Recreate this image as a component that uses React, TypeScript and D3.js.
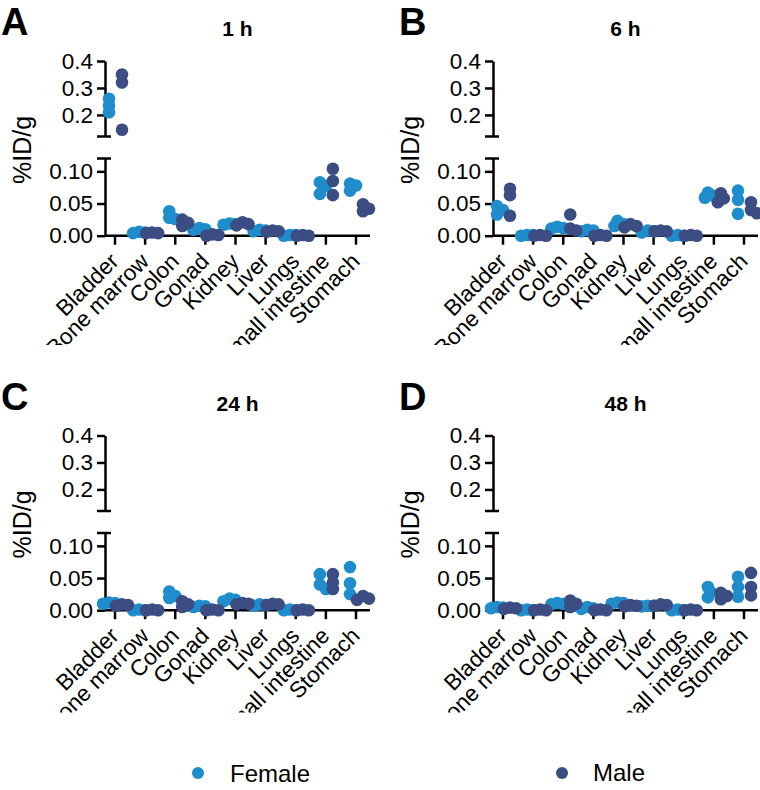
import React, { useEffect, useRef } from 'react';
import * as d3 from 'd3';

const organs = ['Bladder', 'Bone marrow', 'Colon', 'Gonad', 'Kidney', 'Liver', 'Lungs', 'Small intestine', 'Stomach'];
const timepoints = ['1 h', '6 h', '24 h', '48 h'];
const panelLetters = ['A', 'B', 'C', 'D'];
const sexes = ['Female', 'Male'];
const sexColors = ['#1f8dcb', '#3b4d82'];

const upperTicks = [0.2, 0.3, 0.4];
const lowerTicks = [0, 0.05, 0.1];

// %ID/g, three animals per organ, organs in the order above
const female1h = [[0.26, 0.235, 0.21], [0.006, 0.005, 0.004], [0.038, 0.028, 0.026], [0.012, 0.01, 0.009], [0.019, 0.018, 0.017], [0.009, 0.008, 0.007], [0.001, 0.001, 0], [0.083, 0.077, 0.065], [0.081, 0.078, 0.07]];
const male1h = [[0.35, 0.32, 0.145], [0.005, 0.004, 0.004], [0.025, 0.02, 0.015], [0.002, 0.001, 0], [0.021, 0.018, 0.016], [0.008, 0.007, 0.006], [0.001, 0, 0], [0.104, 0.085, 0.063], [0.049, 0.042, 0.038]];
const female6h = [[0.046, 0.04, 0.033], [0.001, 0.001, 0], [0.014, 0.012, 0.011], [0.009, 0.008, 0.007], [0.023, 0.018, 0.015], [0.008, 0.007, 0.005], [0.001, 0, 0], [0.067, 0.062, 0.059], [0.07, 0.056, 0.034]];
const male6h = [[0.073, 0.063, 0.031], [0.001, 0, 0], [0.033, 0.011, 0.008], [0.001, 0, 0], [0.018, 0.015, 0.013], [0.008, 0.007, 0.007], [0.001, 0, 0], [0.066, 0.058, 0.052], [0.052, 0.04, 0.035]];
const female24h = [[0.012, 0.011, 0.01], [0.001, 0, 0], [0.029, 0.022, 0.019], [0.007, 0.006, 0.005], [0.018, 0.016, 0.014], [0.009, 0.008, 0.007], [0.001, 0, 0], [0.056, 0.04, 0.033], [0.067, 0.042, 0.025]];
const male24h = [[0.009, 0.008, 0.007], [0.001, 0, 0], [0.014, 0.009, 0.005], [0.001, 0, 0], [0.011, 0.01, 0.009], [0.01, 0.009, 0.008], [0.001, 0, 0], [0.056, 0.043, 0.033], [0.022, 0.018, 0.016]];
const female48h = [[0.005, 0.004, 0.003], [0.001, 0, 0], [0.011, 0.01, 0.009], [0.005, 0.003, 0.002], [0.012, 0.011, 0.01], [0.007, 0.007, 0.006], [0.001, 0, 0], [0.036, 0.028, 0.02], [0.052, 0.036, 0.021]];
const male48h = [[0.004, 0.003, 0.002], [0.001, 0, 0], [0.015, 0.01, 0.005], [0.001, 0, 0], [0.008, 0.007, 0.006], [0.009, 0.008, 0.007], [0.001, 0, 0], [0.027, 0.022, 0.017], [0.058, 0.036, 0.023]];

const panelData = [
    [female1h, male1h],
    [female6h, male6h],
    [female24h, male24h],
    [female48h, male48h],
];

const FONT = "'Liberation Sans', Arial, Helvetica, sans-serif";

const App = () => {
    const svgRef = useRef<SVGSVGElement>(null);

    useEffect(() => {
        const svg = d3.select(svgRef.current);
        svg.selectAll('*').remove();

        const offsets = [[0, 0], [388, 0], [0, 374.5], [388, 374.5]];
        const letterX = [1, 11, 1, 11];
        const clipBottom = [345, 345, 338, 338];

        const axisX = 105;
        const axisEnd = 370;
        const base = 235.7;
        const r = 6.3;

        const x = d3.scalePoint<string>().domain(organs).range([115, 356]);
        const yLow = d3.scaleLinear().domain([0, 0.12]).range([base, 158.5]);
        const yHigh = d3.scaleLinear().domain([0.12, 0.4]).range([136.5, 61]);
        const yOf = (v: number) => (v >= 0.12 ? yHigh(v) : yLow(v));

        timepoints.forEach((tp, pi) => {
            const [ox, oy] = offsets[pi];
            const g = svg.append('g').attr('transform', `translate(${ox},${oy})`);

            // panel letter + title
            g.append('text')
                .attr('x', letterX[pi]).attr('y', 35)
                .attr('font-family', FONT).attr('font-weight', 'bold').attr('font-size', 38)
                .text(panelLetters[pi]);
            g.append('text')
                .attr('x', (axisX + axisEnd) / 2).attr('y', 36)
                .attr('text-anchor', 'middle')
                .attr('font-family', FONT).attr('font-weight', 'bold').attr('font-size', 21)
                .text(tp);

            // y label
            g.append('text')
                .attr('transform', `translate(31,150) rotate(-90)`)
                .attr('text-anchor', 'middle')
                .attr('font-family', FONT).attr('font-size', 25)
                .text('%ID/g');

            // broken y axis
            const styleAxis = (ax: d3.Selection<SVGGElement, unknown, null, undefined>) => {
                ax.select('.domain').attr('stroke', '#000').attr('stroke-width', 2.5);
                ax.selectAll('.tick line').attr('stroke', '#000').attr('stroke-width', 2.5);
                ax.selectAll('.tick text').attr('font-family', FONT).attr('font-size', 22.5).attr('fill', '#000');
            };

            const upper = g.append('g')
                .attr('transform', `translate(${axisX},0)`)
                .call(d3.axisLeft(yHigh).tickValues(upperTicks).tickFormat(d3.format('.1f')).tickSize(8).tickSizeOuter(0).tickPadding(4));
            styleAxis(upper);

            const lower = g.append('g')
                .attr('transform', `translate(${axisX},0)`)
                .call(d3.axisLeft(yLow).tickValues(lowerTicks).tickFormat(d3.format('.2f')).tickSize(8).tickSizeOuter(0).tickPadding(4));
            styleAxis(lower);

            // caps at the break
            [yHigh(0.12), yLow(0.12)].forEach(yy => {
                g.append('line')
                    .attr('x1', axisX - 8).attr('x2', axisX + 6)
                    .attr('y1', yy).attr('y2', yy)
                    .attr('stroke', '#000').attr('stroke-width', 2.5);
            });

            // x axis
            g.append('line')
                .attr('x1', axisX).attr('x2', axisEnd)
                .attr('y1', base).attr('y2', base)
                .attr('stroke', '#000').attr('stroke-width', 2.5);
            g.selectAll('.xtick')
                .data(organs)
                .enter()
                .append('line')
                .attr('x1', d => x(d)!).attr('x2', d => x(d)!)
                .attr('y1', base).attr('y2', base + 9)
                .attr('stroke', '#000').attr('stroke-width', 2.5);

            const clipId = `clip-${pi}`;
            g.append('clipPath').attr('id', clipId)
                .append('rect').attr('x', -10).attr('y', 0).attr('width', 400).attr('height', clipBottom[pi]);

            g.append('g')
                .attr('clip-path', `url(#${clipId})`)
                .selectAll('text')
                .data(organs)
                .enter()
                .append('text')
                .attr('transform', d => `translate(${x(d)! + 5},${base + 27}) rotate(-45)`)
                .attr('text-anchor', 'end')
                .attr('font-family', FONT).attr('font-size', 22.5)
                .text(d => d);

            // points, spread sideways when they crowd each other
            sexes.forEach((sex, si) => {
                const shift = si === 0 ? -6 : 7;
                panelData[pi][si].forEach((vals, oi) => {
                    const cx0 = x(organs[oi])! + shift;
                    const placed: { cx: number; cy: number }[] = [];
                    [...vals].sort((a, b) => b - a).forEach(v => {
                        const cy = yOf(v);
                        const steps = [0, 3, -3, 6, -6];
                        let cx = cx0;
                        for (const s of steps) {
                            cx = cx0 + s;
                            if (placed.every(p => Math.hypot(p.cx - cx, p.cy - cy) >= 5.5)) break;
                        }
                        placed.push({ cx, cy });
                    });
                    g.selectAll(null)
                        .data(placed)
                        .enter()
                        .append('circle')
                        .attr('cx', d => d.cx)
                        .attr('cy', d => d.cy)
                        .attr('r', r)
                        .attr('fill', sexColors[si]);
                });
            });
        });

        // legend
        const legendPos = [[198, 773, 230, 782], [562, 773, 593, 781]];
        sexes.forEach((sex, si) => {
            const [mx, my, tx, ty] = legendPos[si];
            svg.append('circle').attr('cx', mx).attr('cy', my).attr('r', 6).attr('fill', sexColors[si]);
            svg.append('text')
                .attr('x', tx).attr('y', ty)
                .attr('font-family', FONT).attr('font-size', 24)
                .text(sex);
        });
    }, []);

    return (
        <svg
            ref={svgRef}
            width={760}
            height={790}
            style={{ position: 'absolute', left: 0, top: 0, background: '#fff' }}
        />
    );
};

export default App;
